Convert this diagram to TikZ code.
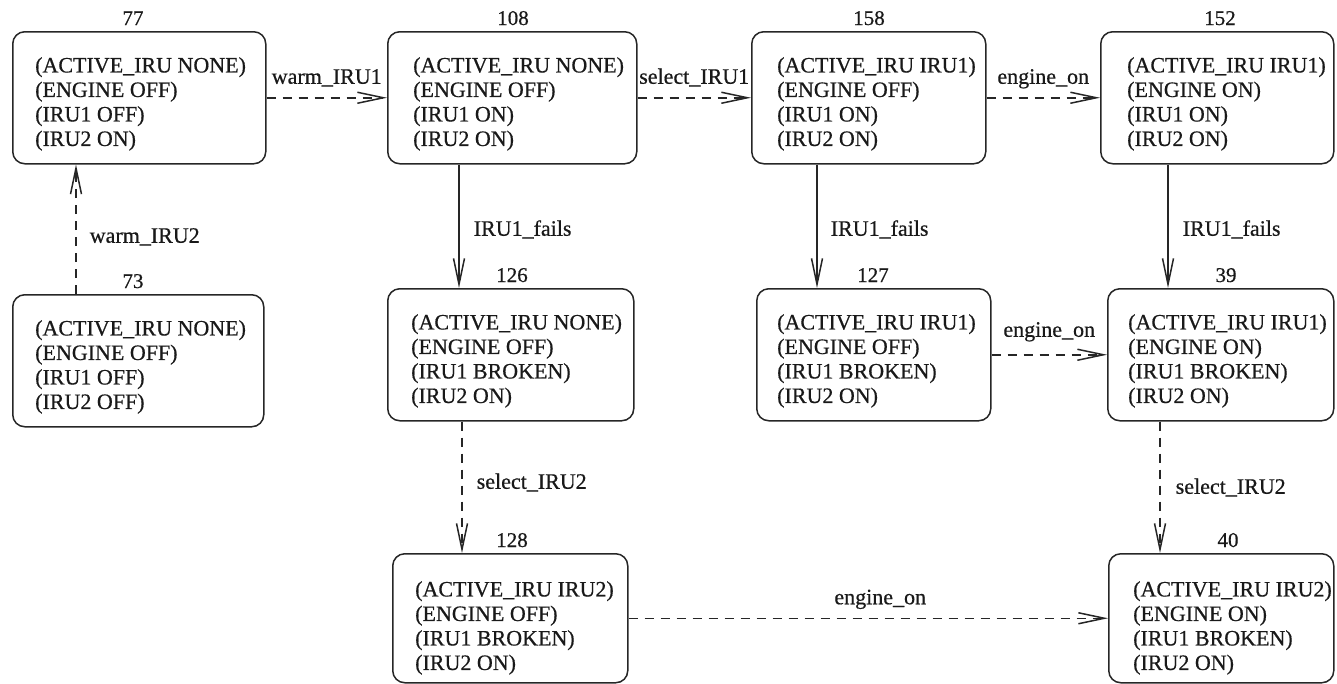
\documentclass[tikz,border=0pt]{standalone}
\usepackage{fontspec}
\setmainfont{Liberation Serif}
\newfontfamily\diagfont[FakeBold=0.6]{Liberation Serif}
\usetikzlibrary{arrows.meta}
\begin{document}
\begin{tikzpicture}[x=1pt,y=-1pt,
  statebox/.style={draw=black!85, line width=1.5pt, rounded corners=12pt, inner sep=0pt, anchor=north west},
  txt/.style={anchor=north west, align=left, inner sep=0pt, font=\diagfont\fontsize{22}{24.5}\selectfont, text=black!90},
  num/.style={anchor=base, inner sep=0pt, font=\diagfont\fontsize{21}{24}\selectfont, text=black!90},
  elbl/.style={inner sep=0pt, font=\diagfont\fontsize{22}{24}\selectfont, text=black!90},
  solidedge/.style={draw=black!85, line width=1.5pt, -{Straight Barb[length=26pt,width=11pt,line width=1.5pt]}},
  dashedge/.style={solidedge, dash pattern=on 9pt off 7pt}]
\useasboundingbox (0,0) rectangle (1337,683);

% top row
\node[statebox, minimum width=253pt, minimum height=132pt] (b77) at (12,31) {};
\node[txt] (t77) at (35,57) {(ACTIVE\_IRU NONE)\\(ENGINE OFF)\\(IRU1 OFF)\\(IRU2 ON)};
\node[num] (n77) at (133,25) {77};

\node[statebox, minimum width=249pt, minimum height=132pt] (b108) at (387,31) {};
\node[txt] (t108) at (413,57) {(ACTIVE\_IRU NONE)\\(ENGINE OFF)\\(IRU1 ON)\\(IRU2 ON)};
\node[num] (n108) at (513,25) {108};

\node[statebox, minimum width=234pt, minimum height=132pt] (b158) at (751,31) {};
\node[txt] (t158) at (777,57) {(ACTIVE\_IRU IRU1)\\(ENGINE OFF)\\(IRU1 ON)\\(IRU2 ON)};
\node[num] (n158) at (869,25) {158};

\node[statebox, minimum width=233pt, minimum height=132pt] (b152) at (1100,31) {};
\node[txt] (t152) at (1127,57) {(ACTIVE\_IRU IRU1)\\(ENGINE ON)\\(IRU1 ON)\\(IRU2 ON)};
\node[num] (n152) at (1220,25) {152};

% middle row
\node[statebox, minimum width=251pt, minimum height=132pt] (b73) at (12,294) {};
\node[txt] (t73) at (35,320) {(ACTIVE\_IRU NONE)\\(ENGINE OFF)\\(IRU1 OFF)\\(IRU2 OFF)};
\node[num] (n73) at (133,288) {73};

\node[statebox, minimum width=246pt, minimum height=132pt] (b126) at (387,288) {};
\node[txt] (t126) at (411,314) {(ACTIVE\_IRU NONE)\\(ENGINE OFF)\\(IRU1 BROKEN)\\(IRU2 ON)};
\node[num] (n126) at (512,282) {126};

\node[statebox, minimum width=234pt, minimum height=132pt] (b127) at (756,288) {};
\node[txt] (t127) at (777,314) {(ACTIVE\_IRU IRU1)\\(ENGINE OFF)\\(IRU1 BROKEN)\\(IRU2 ON)};
\node[num] (n127) at (873,282) {127};

\node[statebox, minimum width=226pt, minimum height=132pt] (b39) at (1107,288) {};
\node[txt] (t39) at (1128,314) {(ACTIVE\_IRU IRU1)\\(ENGINE ON)\\(IRU1 BROKEN)\\(IRU2 ON)};
\node[num] (n39) at (1226,282) {39};

% bottom row
\node[statebox, minimum width=235pt, minimum height=129pt] (b128) at (392,553) {};
\node[txt] (t128) at (415,581) {(ACTIVE\_IRU IRU2)\\(ENGINE OFF)\\(IRU1 BROKEN)\\(IRU2 ON)};
\node[num] (n128) at (512,547) {128};

\node[statebox, minimum width=225pt, minimum height=129pt] (b40) at (1108,553) {};
\node[txt] (t40) at (1133,581) {(ACTIVE\_IRU IRU2)\\(ENGINE ON)\\(IRU1 BROKEN)\\(IRU2 ON)};
\node[num] (n40) at (1228,547) {40};

% horizontal transitions
\draw[dashedge] (b77.east) -- node[elbl, anchor=base, yshift=14pt] {warm\_IRU1} (b108.west);
\draw[dashedge] (b108.east) -- node[elbl, anchor=base, yshift=14pt] {select\_IRU1} (b158.west);
\draw[dashedge] (b158.east) -- node[elbl, anchor=base, yshift=14pt] {engine\_on} (b152.west);
\draw[dashedge] (b127.east) -- node[elbl, anchor=base, yshift=18pt] {engine\_on} (b39.west);
\draw[dashedge] (b128.east) -- node[elbl, anchor=base, yshift=14pt, xshift=12pt] {engine\_on} (b40.west);

% vertical transitions
\draw[dashedge] (b73.north -| 76,0) -- node[elbl, anchor=base west, xshift=13pt, yshift=-13.5pt] {warm\_IRU2} (b77.south -| 76,0);
\draw[solidedge] (b108.south -| 459,0) -- node[elbl, anchor=base west, xshift=14pt, yshift=-9.5pt] {IRU1\_fails} (b126.north -| 459,0);
\draw[solidedge] (b158.south -| 817,0) -- node[elbl, anchor=base west, xshift=13pt, yshift=-9.5pt] {IRU1\_fails} (b127.north -| 817,0);
\draw[solidedge] (b152.south -| 1168,0) -- node[elbl, anchor=base west, xshift=14pt, yshift=-9.5pt] {IRU1\_fails} (b39.north -| 1168,0);
\draw[dashedge] (b126.south -| 462,0) -- node[elbl, anchor=base west, xshift=14pt, yshift=-1.5pt] {select\_IRU2} (b128.north -| 462,0);
\draw[dashedge] (b39.south -| 1160,0) -- node[elbl, anchor=base west, xshift=15pt, yshift=-6.5pt] {select\_IRU2} (b40.north -| 1160,0);
\end{tikzpicture}
\end{document}
